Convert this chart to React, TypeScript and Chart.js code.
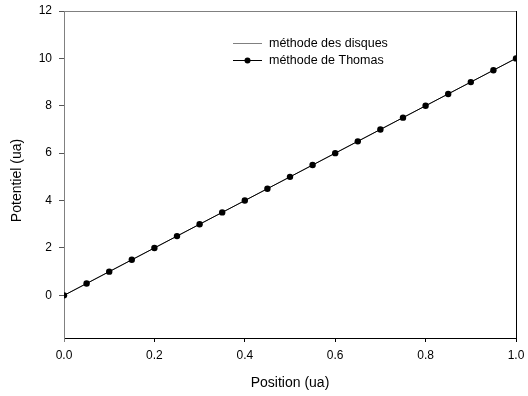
import React, { useEffect, useRef } from "react";
import { Chart, registerables } from "chart.js";

Chart.register(...registerables);

// Positions along the segment (ua)
const positions = [0, 0.05, 0.1, 0.15, 0.2, 0.25, 0.3, 0.35, 0.4, 0.45, 0.5, 0.55, 0.6, 0.65, 0.7, 0.75, 0.8, 0.85, 0.9, 0.95, 1.0];
// Potential computed with the disc method
const disquesValues = [0, 0.5, 1, 1.5, 2, 2.5, 3, 3.5, 4, 4.5, 5, 5.5, 6, 6.5, 7, 7.5, 8, 8.5, 9, 9.5, 10];
// Potential computed with Thomas' method
const thomasValues = [0, 0.5, 1, 1.5, 2, 2.5, 3, 3.5, 4, 4.5, 5, 5.5, 6, 6.5, 7, 7.5, 8, 8.5, 9, 9.5, 10];

const seriesLabels = ["méthode des disques", "méthode de Thomas"];
const xTitle = "Position (ua)";
const yTitle = "Potentiel (ua)";
const yTickValues = [0, 2, 4, 6, 8, 10, 12];

const FONT = "Arial, 'Liberation Sans', sans-serif";
const GRAY = "#808080";

// Frame (top/right edges), bottom extension of the y axis, y title and legend box
const framePlugin = {
  id: "frameAndLegend",
  afterDraw(chart: any) {
    const { ctx, chartArea } = chart;
    const { left, right, top, bottom } = chartArea;
    ctx.save();
    ctx.lineWidth = 1;
    ctx.strokeStyle = GRAY;
    ctx.beginPath();
    ctx.moveTo(left, top + 0.5);
    ctx.lineTo(right, top + 0.5);
    ctx.moveTo(left + 0.5, bottom);
    ctx.lineTo(left + 0.5, bottom + 4);
    ctx.stroke();
    ctx.strokeStyle = "#000";
    ctx.beginPath();
    ctx.moveTo(right + 0.5, top);
    ctx.lineTo(right + 0.5, bottom);
    ctx.stroke();

    // y axis title, centred a little below the middle of the axis
    ctx.save();
    ctx.translate(17, (top + bottom) / 2 + 6);
    ctx.rotate(-Math.PI / 2);
    ctx.font = `14px ${FONT}`;
    ctx.fillStyle = "#000";
    ctx.textAlign = "center";
    ctx.textBaseline = "middle";
    ctx.fillText(yTitle, 0, 0);
    ctx.restore();

    // legend
    const lx0 = 233;
    const lx1 = 262;
    const tx = 269;
    const rows = [43.5, 60.5];
    ctx.font = `12.5px ${FONT}`;
    ctx.textBaseline = "middle";
    ctx.textAlign = "left";
    ctx.fillStyle = "#000";

    ctx.strokeStyle = GRAY;
    ctx.beginPath();
    ctx.moveTo(lx0, rows[0]);
    ctx.lineTo(lx1, rows[0]);
    ctx.stroke();
    ctx.fillText(seriesLabels[0], tx, rows[0]);

    ctx.strokeStyle = "#000";
    ctx.beginPath();
    ctx.moveTo(lx0, rows[1]);
    ctx.lineTo(lx1, rows[1]);
    ctx.stroke();
    ctx.beginPath();
    ctx.arc((lx0 + lx1) / 2, rows[1], 3, 0, Math.PI * 2);
    ctx.fill();
    ctx.fillText(seriesLabels[1], tx, rows[1]);
    ctx.restore();
  },
};

export default function App() {
  const canvasRef = useRef<HTMLCanvasElement | null>(null);

  useEffect(() => {
    document.body.style.margin = "0";
    const canvas = canvasRef.current;
    if (!canvas) return;
    const chart = new Chart(canvas, {
      type: "line",
      data: {
        datasets: [
          {
            label: seriesLabels[1],
            data: positions.map((x, i) => ({ x, y: thomasValues[i] })),
            borderColor: "#000",
            backgroundColor: "#000",
            borderWidth: 1,
            pointRadius: 3.2,
            pointBorderWidth: 0,
            pointBackgroundColor: "#000",
            order: 0,
          },
          {
            label: seriesLabels[0],
            data: positions.map((x, i) => ({ x, y: disquesValues[i] })),
            borderColor: GRAY,
            borderWidth: 1,
            pointRadius: 0,
            order: 1,
          },
        ],
      },
      options: {
        responsive: false,
        animation: false,
        events: [],
        layout: { padding: { top: 11, right: 12, left: 0, bottom: 0 } },
        plugins: { legend: { display: false }, tooltip: { enabled: false } },
        scales: {
          x: {
            type: "linear",
            min: 0,
            max: 1,
            afterFit(scale: any) {
              scale.height = 58;
              scale.paddingLeft = 0;
              scale.paddingRight = 0;
            },
            border: { display: true, color: "#000", width: 1 },
            grid: { drawOnChartArea: false, drawTicks: true, tickLength: 4, color: "#000" },
            ticks: {
              stepSize: 0.2,
              padding: 6,
              color: "#000",
              font: { family: FONT, size: 12 },
              maxRotation: 0,
              callback: (v: any) => Number(v).toFixed(1),
            },
            title: {
              display: true,
              text: xTitle,
              color: "#000",
              font: { family: FONT, size: 14 },
              padding: { top: 0, bottom: 4 },
            },
          },
          y: {
            type: "linear",
            min: -1.8,
            max: 12,
            afterFit(scale: any) {
              scale.width = 64;
              scale.paddingTop = 0;
              scale.paddingBottom = 0;
            },
            afterBuildTicks(scale: any) {
              scale.ticks = yTickValues.map((value) => ({ value }));
            },
            border: { display: true, color: GRAY, width: 1 },
            grid: { drawOnChartArea: false, drawTicks: true, tickLength: 5, color: "#555" },
            ticks: {
              padding: 7,
              color: "#000",
              font: { family: FONT, size: 12 },
              callback: (v: any) => String(v),
            },
            title: { display: false },
          },
        },
      },
      plugins: [framePlugin],
    });
    return () => chart.destroy();
  }, []);

  return (
    <div style={{ width: 528, height: 396 }}>
      <canvas ref={canvasRef} width={528} height={396} />
    </div>
  );
}
